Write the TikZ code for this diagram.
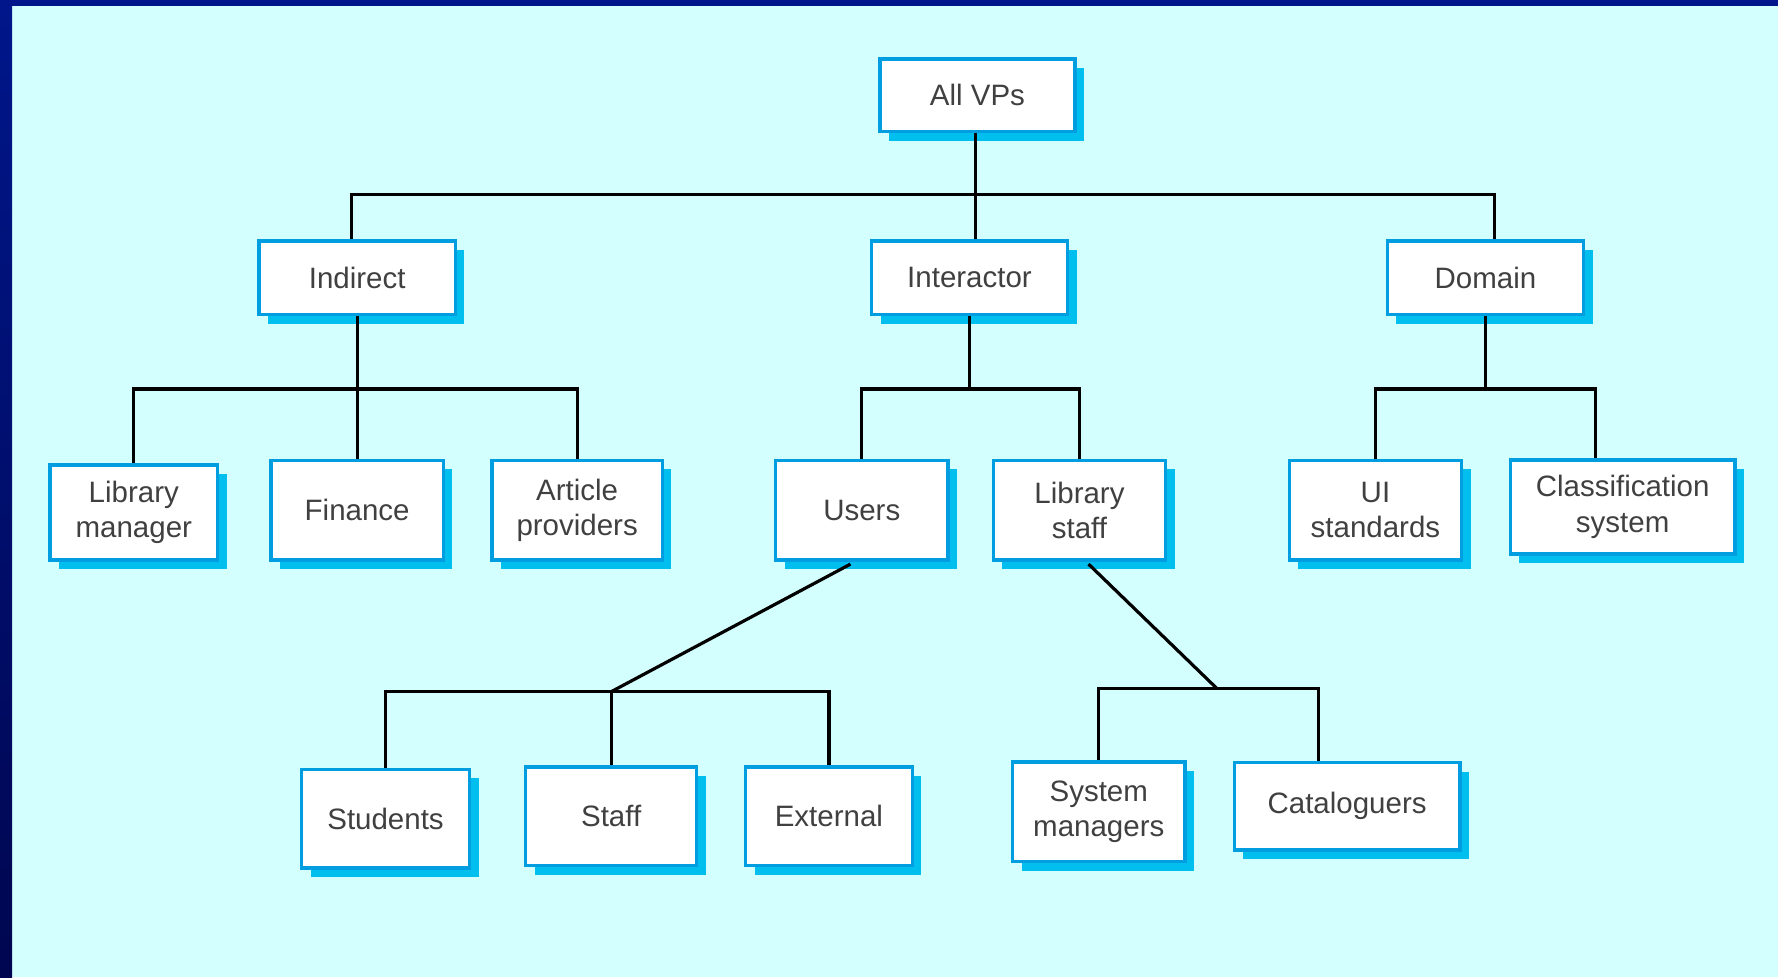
\documentclass[tikz,border=0pt]{standalone}
\usepackage{fontspec}
\setmainfont{Liberation Sans}
\usetikzlibrary{shadows}
\definecolor{bgcyan}{HTML}{D4FFFF}
\definecolor{navytop}{HTML}{00168A}
\definecolor{navybot}{HTML}{000650}
\definecolor{boxblue}{HTML}{009EE0}
\definecolor{shadowblue}{HTML}{00BFEE}
\tikzset{vp/.style={draw=boxblue,line width=0.85pt,fill=white,align=center,inner sep=0pt,
font=\fontsize{7.4}{8.8}\selectfont,text=black!75,
drop shadow={shadow xshift=0.8mm,shadow yshift=-0.8mm,fill=shadowblue,opacity=1}},
sz/.style 2 args={minimum width=#1,minimum height=#2},
link/.style={line width=0.8pt,black}}

\begin{document}
\begin{tikzpicture}[x=0.1mm,y=-0.1mm]
	% background and frame
	\fill[bgcyan] (0,0) rectangle (1568,862);
	\shade[top color=navytop,bottom color=navybot] (0,0) rectangle (10.6,862);
	\fill[navytop] (0,0) rectangle (1568,5.3);
	\useasboundingbox (0,0) rectangle (1568,862);

	% top levels
	\node[vp,sz={17.2mm}{6.4mm}] (vps) at (862,84) {All VPs};
	\node[vp,sz={17.3mm}{6.5mm}] (indirect) at (315,245) {Indirect};
	\node[vp,sz={17.3mm}{6.5mm}] (interactor) at (855,245) {Interactor};
	\node[vp,sz={17.3mm}{6.5mm}] (domain) at (1310,245) {Domain};

	\node[vp,sz={14.8mm}{8.4mm}] (libman) at (118,452) {Library\\manager};
	\node[vp,sz={15.2mm}{8.8mm}] (finance) at (315,450) {Finance};
	\node[vp,sz={15.0mm}{8.8mm}] (article) at (509,450) {Article\\providers};
	\node[vp,sz={15.2mm}{8.8mm}] (users) at (760,450) {Users};
	\node[vp,sz={15.2mm}{8.8mm}] (libstaff) at (952,450) {Library\\staff};
	\node[vp,sz={15.2mm}{8.8mm}] (uistd) at (1213,450) {UI\\standards};
	\node[vp,sz={19.8mm}{8.3mm}] (classif) at (1431,447) {Classification\\system};

	\node[vp,sz={14.8mm}{8.7mm}] (students) at (340,722) {Students};
	\node[vp,sz={15.1mm}{8.7mm}] (staff) at (539,720) {Staff};
	\node[vp,sz={14.7mm}{8.7mm}] (external) at (731,720) {External};
	\node[vp,sz={15.2mm}{8.8mm}] (sysman) at (969,716) {System\\managers};
	\node[vp,sz={19.9mm}{7.7mm}] (catal) at (1188,711) {Cataloguers};

	% junctions
	\coordinate (usr) at (539,610);
	\coordinate (stf) at (1073,607);

	% connectors
	\draw[link] ([xshift=-0.2mm]vps.south) -- ++(0,54) coordinate (top);
	\draw[link] ([xshift=-0.5mm]indirect.north) |- (top) -| ([xshift=0.8mm]domain.north);
	\draw[link] ([xshift=0.5mm]interactor.north) -- ([xshift=0.5mm]interactor.north |- top);

	\draw[link] (indirect.south) -- ++(0,64) coordinate (ind);
	\draw[link] (libman.north) |- (ind) -| (article.north);
	\draw[link] (finance.north) -- (ind);

	\draw[link] (interactor.south) -- ++(0,64) coordinate (int);
	\draw[link] (users.north) |- (int) -| (libstaff.north);

	\draw[link] (domain.south) -- ++(0,64) coordinate (dom);
	\draw[link] (uistd.north) |- (dom) -| ([xshift=-2.4mm]classif.north);

	\draw[link] ([xshift=-1mm,yshift=-0.2mm]users.south) -- (usr);
	\draw[link] (students.north) |- (usr) -| (external.north);
	\draw[link] (staff.north) -- (usr);

	\draw[link] ([xshift=0.8mm,yshift=-0.2mm]libstaff.south) -- (stf);
	\draw[link] (sysman.north) |- (stf) -| ([xshift=-2.5mm]catal.north);
\end{tikzpicture}
\end{document}
